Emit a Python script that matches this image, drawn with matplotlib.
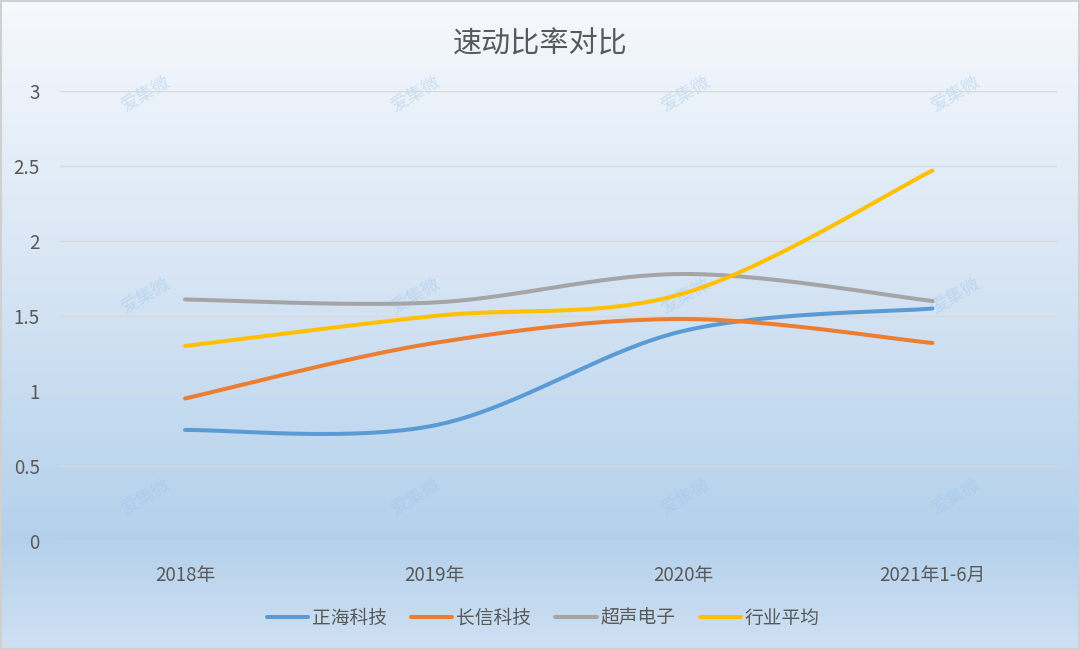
import numpy as np
import matplotlib.pyplot as plt

plt.rcParams['font.family'] = ['Noto Sans CJK SC', 'DejaVu Sans']

categories = ['2018年', '2019年', '2020年', '2021年1-6月']
zhenghai = [0.74, 0.77, 1.40, 1.55]
changxin = [0.95, 1.32, 1.48, 1.32]
chaosheng = [1.61, 1.59, 1.78, 1.60]
industry = [1.30, 1.50, 1.65, 2.47]

series = [
    ('正海科技', zhenghai, '#5b9bd5'),
    ('长信科技', changxin, '#ed7d31'),
    ('超声电子', chaosheng, '#a5a5a5'),
    ('行业平均', industry, '#ffc000'),
]


def smooth(xs, ys, n=60):
    # excel-style smoothing: bezier segments with catmull-rom control points
    xs = np.asarray(xs, float)
    ys = np.asarray(ys, float)
    px = np.concatenate([[xs[0]], xs, [xs[-1]]])
    py = np.concatenate([[ys[0]], ys, [ys[-1]]])
    t = np.linspace(0, 1, n)
    outx, outy = [], []
    for i in range(1, len(xs)):
        p0 = np.array([px[i - 1], py[i - 1]])
        p1 = np.array([px[i], py[i]])
        p2 = np.array([px[i + 1], py[i + 1]])
        p3 = np.array([px[i + 2], py[i + 2]])
        c1 = p1 + (p2 - p0) / 6
        c2 = p2 - (p3 - p1) / 6
        b = ((1 - t) ** 3)[:, None] * p1 + (3 * (1 - t) ** 2 * t)[:, None] * c1 \
            + (3 * (1 - t) * t ** 2)[:, None] * c2 + (t ** 3)[:, None] * p2
        outx.extend(b[:, 0])
        outy.extend(b[:, 1])
    return np.array(outx), np.array(outy)


fig = plt.figure(figsize=(10.8, 6.5), dpi=100)

# gradient background
bg = fig.add_axes([0, 0, 1, 1], zorder=-10)
stops = [(0.0, (0.965, 0.976, 0.992)), (0.45, (0.835, 0.894, 0.955)),
         (0.83, (0.705, 0.818, 0.925)), (1.0, (0.815, 0.882, 0.950))]
pos = np.linspace(0, 1, 300)
cols = np.zeros((300, 3))
for k in range(3):
    cols[:, k] = np.interp(pos, [s[0] for s in stops], [s[1][k] for s in stops])
bg.imshow(cols[:, None, :], aspect='auto', extent=[0, 1, 1, 0])
bg.set_xlim(0, 1)
bg.set_ylim(1, 0)
bg.axis('off')
bg.add_patch(plt.Rectangle((0.001, 0.001), 0.998, 0.997, fill=False,
                           edgecolor='#d0d0d0', lw=1.5))

# faint watermarks
for wx in [0.135, 0.385, 0.635, 0.885]:
    for wy in [0.145, 0.455, 0.765]:
        bg.text(wx, wy, '爱集微', rotation=30, fontsize=13, color='#9cc3ea',
                alpha=0.4, ha='center', va='center')

ax = fig.add_axes([0.056, 0.1677, 0.9227, 0.6923])
ax.patch.set_alpha(0)
x = np.arange(len(categories))
for name, vals, color in series:
    sx, sy = smooth(x, vals)
    ax.plot(sx, sy, color=color, lw=2.9, label=name, solid_capstyle='round')

ax.set_xlim(-0.5, len(categories) - 0.5)
ax.set_ylim(0, 3)
ax.set_yticks([0, 0.5, 1, 1.5, 2, 2.5, 3])
ax.set_yticklabels(['0', '0.5', '1', '1.5', '2', '2.5', '3'])
ax.set_xticks(x)
ax.set_xticklabels(categories)
ax.grid(axis='y', color='#d9d9d9', lw=1)
ax.set_axisbelow(True)
for s in ax.spines.values():
    s.set_visible(False)
ax.tick_params(length=0, labelsize=13.5, colors='#595959')
ax.tick_params(axis='x', pad=17)
ax.tick_params(axis='y', pad=15)

fig.text(0.5, 0.932, '速动比率对比', ha='center', va='center', fontsize=21, color='#595959')
fig.legend(loc='center', bbox_to_anchor=(0.503, 0.049), ncol=4, frameon=False,
           fontsize=13.5, labelcolor='#595959', handlelength=2.2, columnspacing=1.3,
           handletextpad=0.2)

fig.savefig('out.png', dpi=100)
